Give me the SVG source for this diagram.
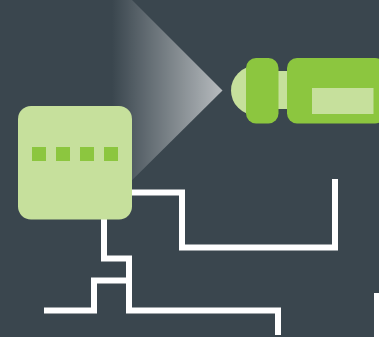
<svg xmlns="http://www.w3.org/2000/svg" width="379" height="337" viewBox="0 0 379 337">
<style>
.wire{fill:none;stroke:#fff;stroke-width:6;stroke-linejoin:miter;stroke-linecap:butt}
.light{fill:#c6e09c}
.green{fill:#8cc63f}
</style>
<defs>
<linearGradient id="beam" gradientUnits="userSpaceOnUse" x1="112" y1="0" x2="222" y2="0">
<stop offset="0" stop-color="#fff" stop-opacity="0"/>
<stop offset="1" stop-color="#fff" stop-opacity="0.63"/>
</linearGradient>
</defs>
<rect width="379" height="337" fill="#3a464e"/>
<polygon id="beam-shape" points="222.500,90.500 132,0 112,0 112,200" fill="url(#beam)"/>
<g id="connectors">
<path class="wire" d="M132 192.500H182V247.500H335V179"/>
<path class="wire" d="M104 219V258.500H129V310.500H278V335"/>
<path class="wire" d="M44 310.500H94V280.500H129"/>
<rect x="374" y="293" width="5" height="44" fill="#fff"/>
</g>
<g id="controller">
<rect class="light" x="18" y="106" width="114" height="113.500" rx="13"/>
<rect class="green" x="32" y="147" width="14" height="14"/>
<rect class="green" x="56" y="147" width="14" height="14"/>
<rect class="green" x="80" y="147" width="14" height="14"/>
<rect class="green" x="104" y="147" width="14" height="14"/>
</g>
<g id="camera">
<circle class="light" cx="255.500" cy="90.500" r="24.500"/>
<rect class="light" x="275" y="71" width="16" height="38"/>
<rect class="green" x="246" y="58" width="32.500" height="65.500" rx="10"/>
<rect class="green" x="287" y="58" width="98" height="65.500" rx="10"/>
<rect class="light" x="312" y="88" width="61.500" height="26"/>
</g>
</svg>
